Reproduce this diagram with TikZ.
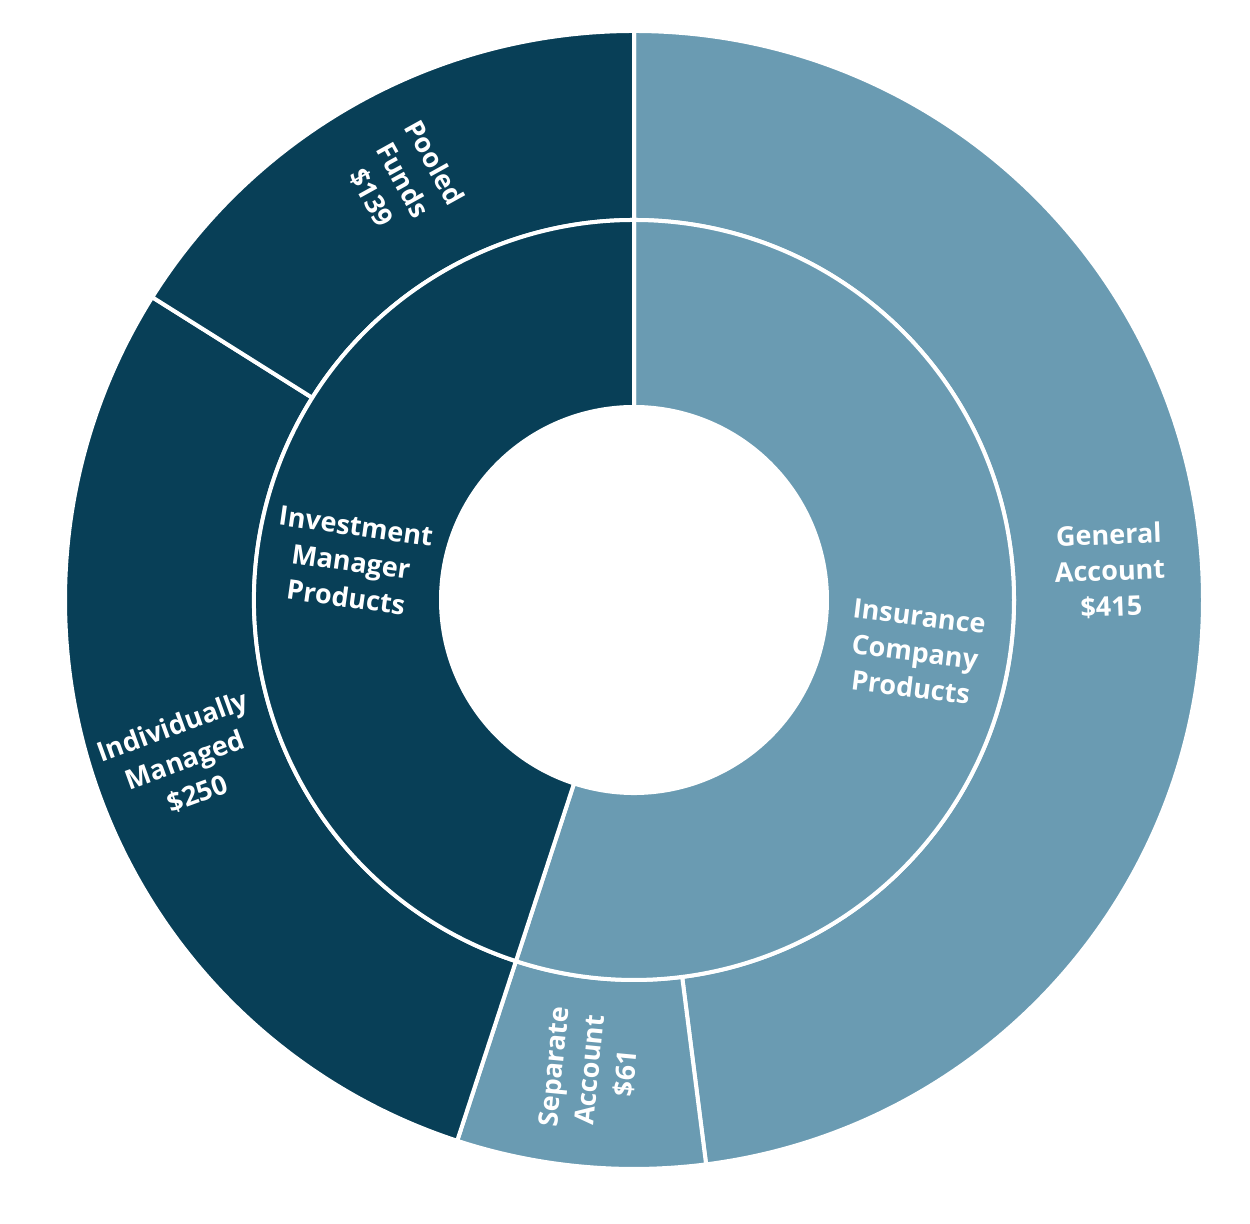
\documentclass[tikz,border=0pt]{standalone}
\usepackage{fontspec}
\setmainfont{Open Sans}
\definecolor{darkteal}{HTML}{083F57}
\definecolor{lightteal}{HTML}{6A9BB2}
\begin{document}
\begin{tikzpicture}[
  wedge/.style={draw=white, line width=2pt, line join=miter},
  lbl/.style={text=white, align=center, inner sep=0pt, font=\bfseries\fontsize{13.5}{18}\selectfont}
]
\useasboundingbox (0,0) rectangle (625pt,612pt);
\coordinate (C) at (317pt,312pt);
\begin{scope}[shift={(C)}]
% outer ring
\path[wedge, fill=lightteal] (90:284.5pt) arc[start angle=90, end angle=-82.717, radius=284.5pt] -- (-82.717:190pt) arc[start angle=-82.717, end angle=90, radius=190pt] -- cycle;
\path[wedge, fill=lightteal] (-82.717:284.5pt) arc[start angle=-82.717, end angle=-108.104, radius=284.5pt] -- (-108.104:190pt) arc[start angle=-108.104, end angle=-82.717, radius=190pt] -- cycle;
\path[wedge, fill=darkteal] (-108.104:284.5pt) arc[start angle=-108.104, end angle=-212.150, radius=284.5pt] -- (-212.150:190pt) arc[start angle=-212.150, end angle=-108.104, radius=190pt] -- cycle;
\path[wedge, fill=darkteal] (-212.150:284.5pt) arc[start angle=-212.150, end angle=-270, radius=284.5pt] -- (-270:190pt) arc[start angle=-270, end angle=-212.150, radius=190pt] -- cycle;
% inner ring
\path[wedge, fill=lightteal] (90:190pt) arc[start angle=90, end angle=-108.104, radius=190pt] -- (-108.104:96.5pt) arc[start angle=-108.104, end angle=90, radius=96.5pt] -- cycle;
\path[wedge, fill=darkteal] (-108.104:190pt) arc[start angle=-108.104, end angle=-270, radius=190pt] -- (-270:96.5pt) arc[start angle=-270, end angle=-108.104, radius=96.5pt] -- cycle;
\end{scope}
% labels
\node[lbl, rotate=2] (ga) at (555pt,326.5pt) {General\\Account\\\$415};
\node[lbl, rotate=84.6] (sa) at (295pt,77pt) {Separate\\Account\\\$61};
\node[lbl, rotate=20] (im) at (92.5pt,232pt) {Individually\\Managed\\\$250};
\node[lbl, rotate=-61] (pf) at (201.5pt,522pt) {Pooled\\Funds\\\$139};
\node[lbl, rotate=-7] (icp) at (457.5pt,286pt) {Insurance\\Company\\Products};
\node[lbl, rotate=-8] (imp) at (175.5pt,331pt) {Investment\\Manager\\Products};
\end{tikzpicture}
\end{document}
